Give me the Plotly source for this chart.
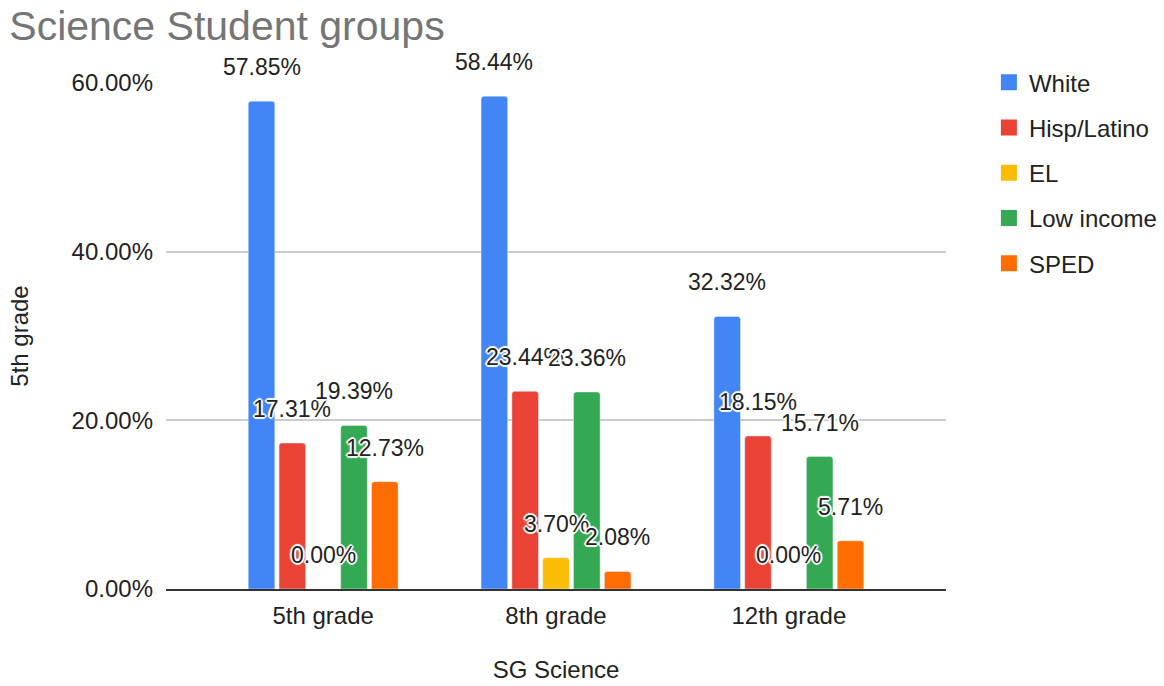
import plotly.graph_objects as go

grades = ["5th grade", "8th grade", "12th grade"]
groups = ["White", "Hisp/Latino", "EL", "Low income", "SPED"]
white = [57.85, 58.44, 32.32]
hisp_latino = [17.31, 23.44, 18.15]
el = [0.00, 3.70, 0.00]
low_income = [19.39, 23.36, 15.71]
sped = [12.73, 2.08, 5.71]
y_ticks = [0, 20, 40, 60]

series = [white, hisp_latino, el, low_income, sped]
colors = ["#4285F4", "#EA4335", "#FBBC04", "#34A853", "#FF6D01"]
FONT = "Liberation Sans, Arial, sans-serif"

W, H = 1164, 686
L, R, T, B = 166, 218, 83, 97
x_range = [-0.675, 2.675]
bargap = 0.338
cat_px = (W - L - R) / (x_range[1] - x_range[0])
slot_px = cat_px * (1 - bargap) / len(groups)

# white outline round the data labels, like the Sheets chart
halo = ("1px 1px 1px white, -1px -1px 1px white, 1px -1px 1px white, "
        "-1px 1px 1px white, 0 2px 1px white, 0 -2px 1px white, 2px 0 1px white, -2px 0 1px white")

fig = go.Figure()
annotations = []
for i, (name, vals, col) in enumerate(zip(groups, series, colors)):
    fig.add_trace(go.Bar(x=grades, y=vals, name=name, marker_color=col,
                         legendgroup=name, showlegend=False, hoverinfo="x+y+name"))
    # bigger square swatch for the legend than the bar icon gives
    fig.add_trace(go.Scatter(x=[None], y=[None], mode="markers", name=name,
                             legendgroup=name, showlegend=True,
                             marker=dict(symbol="square", size=16, color=col)))
    shift = (i - (len(groups) - 1) / 2) * slot_px
    for g, v in zip(grades, vals):
        annotations.append(dict(x=g, y=v, xref="x", yref="y", text=f"{v:.2f}%",
                                showarrow=False, xshift=shift, yshift=34,
                                yanchor="middle",
                                font=dict(family=FONT, size=23, color="#222222",
                                          shadow=halo)))

fig.update_layout(
    width=W, height=H,
    margin=dict(l=L, r=R, t=T, b=B, autoexpand=False),
    paper_bgcolor="white", plot_bgcolor="white",
    barmode="group", bargap=bargap, bargroupgap=0.138, barcornerradius=3,
    font=dict(family=FONT, size=24, color="#222222"),
    title=dict(text="Science Student groups", x=0.008, xanchor="left", y=0.962, yanchor="middle",
               font=dict(family=FONT, size=41, color="#757575")),
    annotations=annotations,
    legend=dict(x=1.055, xanchor="left", y=1.045, yanchor="top", traceorder="grouped",
                tracegroupgap=11, font=dict(family=FONT, size=24, color="#222222")),
    showlegend=True,
)
fig.update_xaxes(range=x_range, showline=True, linecolor="#333333", linewidth=1.5,
                 tickfont=dict(size=24), ticks="", ticklabelstandoff=4,
                 title=dict(text="SG Science", standoff=34, font=dict(size=24)))
fig.update_yaxes(range=[0, 60], tickvals=y_ticks, ticktext=[f"{t:.2f}%" for t in y_ticks],
                 showgrid=True, gridcolor="#cccccc", gridwidth=1.5, zeroline=False,
                 tickfont=dict(size=24), ticks="", ticklabelstandoff=12,
                 title=dict(text="5th grade", standoff=36, font=dict(size=24)))

# drop the browser's default 8px body margin so the figure sits at the page corner
fig.write_html("out.html", config={"displayModeBar": False},
               post_script="document.body.style.margin='0';")
